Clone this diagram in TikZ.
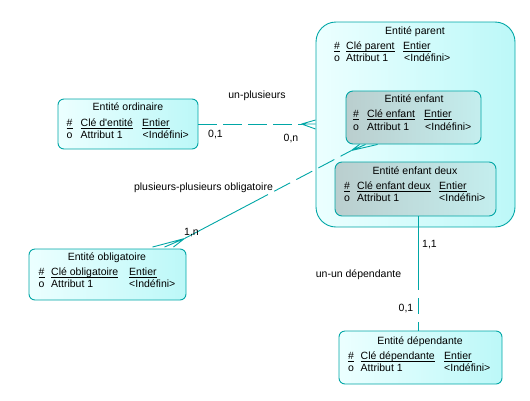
\documentclass[tikz,border=0pt]{standalone}
\usepackage{fontspec}
\setmainfont{Liberation Sans}
\usetikzlibrary{calc}
\newcommand\uln[1]{\underline{\smash{#1}}}
\definecolor{edge}{RGB}{0,166,166}
\definecolor{cyL}{RGB}{236,255,255}
\definecolor{cyR}{RGB}{188,248,248}
\definecolor{grL}{RGB}{186,206,206}
\definecolor{grR}{RGB}{196,238,238}
\begin{document}
\begin{tikzpicture}[x=1pt,y=-1pt,
  font=\fontsize{10.5}{12}\selectfont,
  ent/.style={draw=edge, line width=0.9pt, rounded corners=6pt, left color=cyL, right color=cyR, inner sep=0pt},
  sub/.style={draw=edge, line width=0.9pt, rounded corners=7pt, left color=grL, right color=grR, inner sep=0pt},
  txt/.style={inner sep=0pt, anchor=base west},
  ttl/.style={inner sep=0pt, anchor=base},
  lbl/.style={inner sep=0pt, anchor=base},
  conn/.style={draw=edge, line width=0.9pt}]
\useasboundingbox (0,0) rectangle (530,400);

% boxes
\node[ent, rounded corners=20pt, minimum width=199pt, minimum height=205pt] (par) at (415.5,124.5) {};
\node[sub, minimum width=135pt, minimum height=53pt] (enf) at (413.5,117.5) {};
\node[sub, minimum width=161pt, minimum height=54pt] (ed) at (415.5,189) {};
\node[ent, minimum width=140pt, minimum height=50pt] (ord) at (128,124) {};
\node[ent, minimum width=157pt, minimum height=51pt] (obl) at (107.5,274.5) {};
\node[ent, minimum width=163pt, minimum height=53pt] (dep) at (420.5,357.5) {};

% Entité parent
\node[ttl] (par-t) at (415,34.3) {Entité parent};
\node[txt] (par-h) at (334,49.3) {\uln{\#}};
\node[txt] (par-k) at (346,49.3) {\uln{Clé parent}};
\node[txt] (par-e) at (403,49.3) {\uln{Entier}};
\node[txt] (par-o) at (334,61.7) {o};
\node[txt] (par-a) at (346,61.7) {Attribut 1};
\node[txt] (par-i) at (404,61.7) {<Indéfini>};

% Entité enfant
\node[ttl] (enf-t) at (414,102.3) {Entité enfant};
\node[txt] (enf-h) at (353,117.7) {\uln{\#}};
\node[txt] (enf-k) at (367,117.7) {\uln{Clé enfant}};
\node[txt] (enf-e) at (424,117.7) {\uln{Entier}};
\node[txt] (enf-o) at (353,130) {o};
\node[txt] (enf-a) at (367,130) {Attribut 1};
\node[txt] (enf-i) at (425,130) {<Indéfini>};

% Entité enfant deux
\node[ttl] (ed-t) at (415,174.3) {Entité enfant deux};
\node[txt] (ed-h) at (344,189.3) {\uln{\#}};
\node[txt] (ed-k) at (357,189.3) {\uln{Clé enfant deux}};
\node[txt] (ed-e) at (439,189.3) {\uln{Entier}};
\node[txt] (ed-o) at (344,201.7) {o};
\node[txt] (ed-a) at (357,201.7) {Attribut 1};
\node[txt] (ed-i) at (439,201.7) {<Indéfini>};

% Entité ordinaire
\node[ttl] (ord-t) at (128,110.5) {Entité ordinaire};
\node[txt] (ord-h) at (66.5,126.7) {\uln{\#}};
\node[txt] (ord-k) at (80.5,126.7) {\uln{Clé d\textquotesingle entité}};
\node[txt] (ord-e) at (142,126.7) {\uln{Entier}};
\node[txt] (ord-o) at (66.5,138.5) {o};
\node[txt] (ord-a) at (80.5,138.5) {Attribut 1};
\node[txt] (ord-i) at (142.5,138.5) {<Indéfini>};

% Entité obligatoire
\node[ttl] (obl-t) at (107,260) {Entité obligatoire};
\node[txt] (obl-h) at (38.5,275.7) {\uln{\#}};
\node[txt] (obl-k) at (51,275.7) {\uln{Clé obligatoire}};
\node[txt] (obl-e) at (129,275.7) {\uln{Entier}};
\node[txt] (obl-o) at (38.5,287.7) {o};
\node[txt] (obl-a) at (51,287.7) {Attribut 1};
\node[txt] (obl-i) at (129,287.7) {<Indéfini>};

% Entité dépendante
\node[ttl] (dep-t) at (420,344) {Entité dépendante};
\node[txt] (dep-h) at (348,359.3) {\uln{\#}};
\node[txt] (dep-k) at (360.5,359.3) {\uln{Clé dépendante}};
\node[txt] (dep-e) at (444,359.3) {\uln{Entier}};
\node[txt] (dep-o) at (348,371.7) {o};
\node[txt] (dep-a) at (360.5,371.7) {Attribut 1};
\node[txt] (dep-i) at (444,371.7) {<Indéfini>};

% un-plusieurs
\coordinate (cf1) at ($(par.west)+(-14,0)$);
\draw[conn, dash pattern=on 19pt off 6pt] (ord.east) -- (ord.east -| cf1);
\draw[conn] (ord.east -| cf1) -- ($(par.west)+(0,-4.5)$)
            (ord.east -| cf1) -- (ord.east -| par.west)
            (ord.east -| cf1) -- ($(par.west)+(0,4.5)$);
\node[lbl] (l-up) at (257,98.5) {un-plusieurs};
\node[lbl] (l-01a) at (215.5,137.3) {0,1};
\node[lbl] (l-0n) at (291,141.7) {0,n};

% plusieurs-plusieurs obligatoire
\coordinate (pa) at ($(obl.north east)+(-2,-10)$);
\coordinate (pb) at ($(enf.south west)+(6,6)$);
\coordinate (pm) at ($(pa)!0.5!(pb)$);
\draw[conn] (pa) -- (pm);
\draw[conn, dash pattern=on 18pt off 7pt, dash phase=18pt] (pm) -- (pb);
\draw[conn] (pa) -- ($(obl.north east)+(-34,-1.5)$)
            (pa) -- ($(obl.north east)+(-22,-1.5)$)
            (pa) -- ($(obl.north east)+(-13,-1.5)$);
\draw[conn] (pb) -- ($(enf.south west)+(14,0)$)
            (pb) -- ($(enf.south west)+(20,0)$)
            (pb) -- ($(enf.south west)+(32,0)$);
\node[lbl] (l-pp) at (203.5,190) {plusieurs-plusieurs obligatoire};
\node[lbl] (l-1n) at (191.5,235.7) {1,n};

% un-un dépendante
\coordinate (ua) at ($(ed.south)+(2.5,0)$);
\coordinate (ub) at ($(dep.north)+(-2.5,0)$);
\coordinate (um) at ($(ua)+(0,74)$);
\draw[conn] (ua) -- (um);
\draw[conn, dash pattern=on 16pt off 8pt, dash phase=16pt] (um) -- (ub);
\node[lbl] (l-11) at (429.5,247.7) {1,1};
\node[lbl] (l-uu) at (358.5,277.3) {un-un dépendante};
\node[lbl] (l-01b) at (406,311) {0,1};
\end{tikzpicture}
\end{document}
